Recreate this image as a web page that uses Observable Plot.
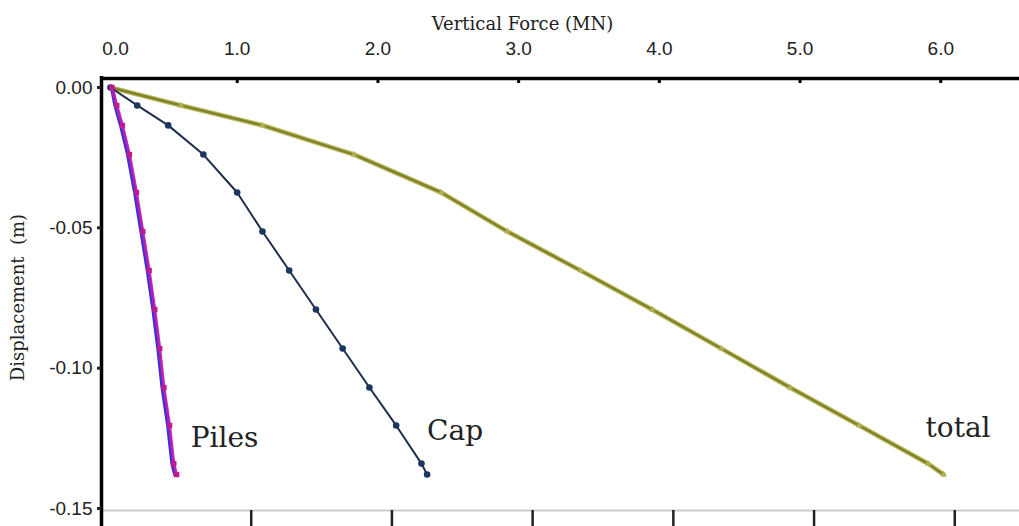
<!DOCTYPE html>
<html>
<head>
<meta charset="utf-8">
<script src="https://cdn.jsdelivr.net/npm/d3@7"></script>
<script src="https://cdn.jsdelivr.net/npm/@observablehq/plot@0.6"></script>
<style>
  html, body { margin: 0; padding: 0; background: #fff; }
</style>
</head>
<body>
<div id="chart"></div>
<script>
// ---- data ----
const displacement = [0, -0.0064, -0.0135, -0.0239, -0.0374, -0.0513, -0.0652, -0.0791, -0.0930, -0.1069, -0.1204, -0.1340, -0.1379];
const totalForce   = [0, 0.50, 1.08, 1.73, 2.35, 2.82, 3.34, 3.85, 4.34, 4.83, 5.32, 5.81, 5.92];
const capForce     = [0, 0.19, 0.41, 0.66, 0.90, 1.08, 1.27, 1.46, 1.65, 1.84, 2.03, 2.21, 2.25];
const pilesForceA  = [0.01, 0.035, 0.075, 0.125, 0.175, 0.22, 0.265, 0.305, 0.34, 0.37, 0.41, 0.44, 0.46];
const pilesForceB  = [0.01, 0.045, 0.085, 0.135, 0.185, 0.23, 0.275, 0.315, 0.35, 0.38, 0.42, 0.45, 0.47];

const forceTicks = [1, 2, 3, 4, 5, 6];
const forceZeroTick = [0];
const dispTicks = [0, -0.05, -0.10, -0.15];
const seriesLabels = ["Piles", "Cap", "total"];
const xTitle = "Vertical Force (MN)";
const yTitle = "Displacement  (m)";

const xDomain = [-0.064, 6.46];
const yDomain = [-0.1507, 0.0032];

const toRows = (forces) => displacement.map((d, i) => ({force: forces[i], disp: d}));
const totalData = toRows(totalForce);
const capData = toRows(capForce);
const pilesA = toRows(pilesForceA);
const pilesB = toRows(pilesForceB);
const last = (rows) => [rows[rows.length - 1]];

const serif = "DejaVu Serif";
const fmt1 = d => d.toFixed(1);
const fmt2 = d => d.toFixed(2);

const chart = Plot.plot({
  width: 1019,
  height: 526,
  marginLeft: 101,
  marginRight: 0,
  marginTop: 78,
  marginBottom: 16,
  x: {domain: xDomain},
  y: {domain: yDomain},
  style: {fontFamily: "Liberation Sans", fontSize: "19px", color: "#222", background: "#fff"},
  marks: [
    // frame lines
    Plot.ruleY([yDomain[0]], {stroke: "#cccccc", strokeWidth: 2}),
    Plot.ruleY([yDomain[1]], {stroke: "#000", strokeWidth: 3.5}),
    Plot.ruleX([xDomain[0]], {stroke: "#000", strokeWidth: 3.5, insetBottom: -16, insetTop: -2}),
    // top axis (labels)
    Plot.axisX({anchor: "top", ticks: forceTicks, tickSize: 0, tickPadding: 24, dx: -14, tickFormat: fmt1, label: null, fontSize: 19, fill: "#222"}),
    Plot.axisX({anchor: "top", ticks: forceZeroTick, tickSize: 0, tickPadding: 24, dx: 5, tickFormat: fmt1, label: null, fontSize: 19, fill: "#222"}),
    // top axis inward tick marks
    Plot.ruleX(forceTicks, {x: d => d, dx: -14, stroke: "#000", strokeWidth: 3, insetBottom: 427}),
    // bottom tick marks (no labels)
    Plot.axisX({anchor: "bottom", ticks: forceTicks, tickSize: 16, tickFormat: () => "", label: null, strokeWidth: 2.5}),
    // left axis
    Plot.axisY({anchor: "left", ticks: dispTicks, tickSize: 4, tickPadding: 5, strokeWidth: 3, tickFormat: fmt2, label: null, fontSize: 19, fill: "#222"}),
    // titles
    Plot.text([xTitle], {frameAnchor: "top", textAnchor: "middle", dx: -38, dy: -61, fontFamily: serif, fontSize: 18, fill: "#222"}),
    Plot.text([yTitle], {frameAnchor: "left", textAnchor: "middle", rotate: -90, dx: -83, dy: 3, fontFamily: serif, fontSize: 18, fill: "#222"}),
    // total
    Plot.line(totalData, {x: "force", y: "disp", stroke: "#bcbc66", strokeWidth: 4.8}),
    Plot.line(totalData, {x: "force", y: "disp", stroke: "#818128", strokeWidth: 2.4}),
    Plot.dot(totalData, {x: "force", y: "disp", symbol: "triangle", r: 2.4, fill: "#b0b050"}),
    // cap
    Plot.line(capData, {x: "force", y: "disp", stroke: "#1e2e4c", strokeWidth: 2}),
    Plot.dot(capData, {x: "force", y: "disp", r: 3.3, fill: "#1b3660"}),
    // piles
    Plot.line(pilesA, {x: "force", y: "disp", stroke: "#3b2fd8", strokeWidth: 4.2}),
    Plot.line(pilesB, {x: "force", y: "disp", stroke: "#c41fae", strokeWidth: 3, strokeOpacity: 0.9}),
    Plot.dot(pilesB, {x: "force", y: "disp", symbol: "square", r: 3, fill: "#c01a92"}),
    // series labels
    Plot.text(last(pilesB), {x: "force", y: "disp", text: () => seriesLabels[0], textAnchor: "start", dx: 14, dy: -37, fontFamily: serif, fontSize: 28, fill: "#222"}),
    Plot.text(last(capData), {x: "force", y: "disp", text: () => seriesLabels[1], textAnchor: "start", dx: 0, dy: -44, fontFamily: serif, fontSize: 28, fill: "#222"}),
    Plot.text(last(totalData), {x: "force", y: "disp", text: () => seriesLabels[2], textAnchor: "start", dx: -18, dy: -47, fontFamily: serif, fontSize: 28, fill: "#222"})
  ]
});
document.getElementById("chart").appendChild(chart);
</script>
</body>
</html>
